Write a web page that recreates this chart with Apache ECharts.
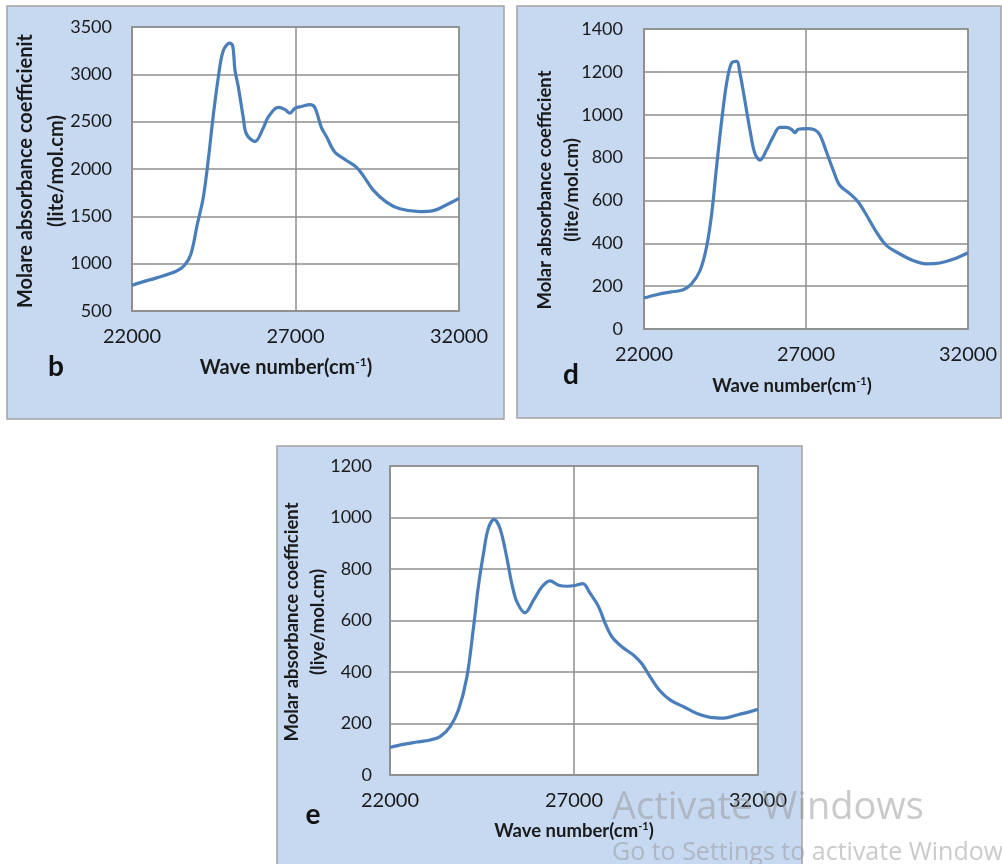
<!DOCTYPE html>
<html>
<head>
<meta charset="utf-8">
<style>
  html, body { margin: 0; padding: 0; background: #fff; }
  #chart { width: 1002px; height: 864px; }
</style>
<script src="https://cdn.jsdelivr.net/npm/echarts@6/dist/echarts.min.js"></script>
</head>
<body>
<div id="chart"></div>
<script>
// panel b
const bWave = [22000, 22350, 22750, 23350, 23600, 23800, 24000, 24180, 24330, 24480, 24640, 24790, 24990, 25080, 25150, 25250, 25400, 25500, 25760, 26010, 26170, 26470, 26670, 26830, 26980, 27180, 27440, 27590, 27790, 27950, 28200, 28560, 28860, 29070, 29370, 29780, 30190, 30800, 31210, 31610, 32000]
const bCoef = [770, 810, 850, 920, 980, 1100, 1420, 1700, 2090, 2550, 2970, 3250, 3330, 3300, 3040, 2870, 2550, 2370, 2290, 2430, 2550, 2650, 2630, 2590, 2640, 2660, 2680, 2650, 2440, 2340, 2180, 2090, 2020, 1930, 1780, 1650, 1580, 1550, 1560, 1620, 1690]
// panel d
const dWave = [22000, 22390, 22800, 23210, 23470, 23730, 23930, 24090, 24240, 24400, 24550, 24700, 24860, 24960, 25110, 25270, 25420, 25580, 25780, 25990, 26190, 26400, 26550, 26660, 26760, 27020, 27270, 27430, 27630, 27840, 28040, 28350, 28610, 28870, 29170, 29480, 29890, 30300, 30720, 31130, 31540, 32000]
const dCoef = [145, 160, 172, 183, 211, 273, 382, 539, 757, 976, 1147, 1241, 1249, 1194, 1069, 929, 820, 788, 835, 898, 941, 941, 932, 916, 932, 935, 929, 905, 827, 741, 671, 632, 593, 531, 453, 390, 351, 320, 304, 308, 325, 356]
// panel e
const eWave = [22000, 22360, 22730, 23090, 23360, 23630, 23860, 24090, 24270, 24400, 24540, 24670, 24830, 24990, 25170, 25310, 25450, 25670, 25900, 26130, 26350, 26580, 26810, 27030, 27240, 27440, 27670, 27850, 28030, 28300, 28620, 28850, 29070, 29340, 29620, 29980, 30340, 30700, 31070, 31430, 31790, 32000]
const eCoef = [107, 119, 128, 136, 149, 187, 252, 381, 575, 731, 860, 957, 993, 957, 847, 743, 672, 630, 679, 731, 754, 737, 733, 736, 743, 705, 653, 588, 537, 498, 465, 431, 381, 326, 291, 265, 239, 224, 221, 233, 246, 255]

const xTicks = [22000, 27000, 32000]
const bTicks = [500, 3500, 500]   // min, max, step
const dTicks = [0, 1400, 200]
const eTicks = [0, 1200, 200]

const yTitles = [
  ['Molare absorbance coefficienit', '(lite/mol.cm)'],
  ['Molar absorbance coefficient', '(lite/mol.cm)'],
  ['Molar absorbance coefficient', '(liye/mol.cm)']
]
const letters = ['b', 'd', 'e']

const FONT = 'Lato, "Open Sans", sans-serif'
const GRID_COLOR = '#8e8e8e'
const LINE_COLOR = '#4a7ebb'
const PANEL_FILL = '#c6d9f1'
const TEXT_COLOR = '#1a1a1a'

function zip(xs, ys) {
  return xs.map((x, i) => [x, ys[i]])
}

function xAxisOf(idx) {
  return {
    gridIndex: idx,
    type: 'value',
    min: xTicks[0],
    max: xTicks[2],
    interval: xTicks[1] - xTicks[0],
    axisLine: { show: true, lineStyle: { color: GRID_COLOR, width: 1.5 } },
    axisTick: { show: false },
    splitLine: { show: true, lineStyle: { color: GRID_COLOR, width: 1.5 } },
    axisLabel: { color: TEXT_COLOR, fontFamily: FONT, fontSize: 20, margin: 16, formatter: v => String(v) }
  }
}

function yAxisOf(idx, ticks, margin) {
  return {
    gridIndex: idx,
    type: 'value',
    min: ticks[0],
    max: ticks[1],
    interval: ticks[2],
    axisLine: { show: true, lineStyle: { color: GRID_COLOR, width: 1.5 } },
    axisTick: { show: false },
    splitLine: { show: true, lineStyle: { color: GRID_COLOR, width: 1.5 } },
    axisLabel: { color: TEXT_COLOR, fontFamily: FONT, fontSize: 18, margin: margin, formatter: v => String(v) }
  }
}

function seriesOf(idx, data) {
  return {
    type: 'line',
    xAxisIndex: idx,
    yAxisIndex: idx,
    data: data,
    smooth: 0.35,
    showSymbol: false,
    lineStyle: { color: LINE_COLOR, width: 3.2 },
    z: 5
  }
}

function panelRect(x, y, w, h) {
  return {
    type: 'rect',
    z: -10,
    shape: { x: x, y: y, width: w, height: h },
    style: { fill: PANEL_FILL, stroke: '#a3a3a3', lineWidth: 1.5 }
  }
}

function yTitle(lines, x1, x2, cy, size) {
  return lines.map((t, i) => ({
    type: 'text',
    z: 20,
    x: i === 0 ? x1 : x2,
    y: cy,
    rotation: Math.PI / 2,
    style: {
      text: t,
      fill: '#1a1a1a',
      font: 'bold ' + size + 'px ' + FONT,
      textAlign: 'center',
      textVerticalAlign: 'middle'
    }
  }))
}

function xTitle(cx, cy, size) {
  return {
    type: 'text',
    z: 20,
    x: cx,
    y: cy,
    style: {
      text: '{a|Wave number(cm}{s|-1}{a|)}',
      textAlign: 'center',
      textVerticalAlign: 'middle',
      rich: {
        a: { fontFamily: FONT, fontWeight: 'bold', fontSize: size, fill: '#1a1a1a' },
        s: { fontFamily: FONT, fontWeight: 'bold', fontSize: Math.round(size * 0.6), fill: '#1a1a1a', padding: [0, 0, Math.round(size * 0.55), 0] }
      }
    }
  }
}

function letter(t, cx, cy) {
  return {
    type: 'text',
    z: 20,
    x: cx,
    y: cy,
    style: {
      text: t,
      fill: '#111',
      font: 'bold 28px ' + FONT,
      textAlign: 'center',
      textVerticalAlign: 'middle'
    }
  }
}

const chart = echarts.init(document.getElementById('chart'), null, { renderer: 'canvas' })

chart.setOption({
  animation: false,
  backgroundColor: '#fff',
  grid: [
    { left: 132, top: 27, width: 327, height: 284, show: true, backgroundColor: '#fff', borderColor: GRID_COLOR, borderWidth: 1.5 },
    { left: 644, top: 29, width: 324, height: 300, show: true, backgroundColor: '#fff', borderColor: GRID_COLOR, borderWidth: 1.5 },
    { left: 390, top: 466, width: 368, height: 309, show: true, backgroundColor: '#fff', borderColor: GRID_COLOR, borderWidth: 1.5 }
  ],
  xAxis: [xAxisOf(0), xAxisOf(1), xAxisOf(2)],
  yAxis: [yAxisOf(0, bTicks, 20), yAxisOf(1, dTicks, 21), yAxisOf(2, eTicks, 18)],
  series: [
    seriesOf(0, zip(bWave, bCoef)),
    seriesOf(1, zip(dWave, dCoef)),
    seriesOf(2, zip(eWave, eCoef))
  ],
  graphic: [
    panelRect(7, 6, 497, 413),
    panelRect(517, 6, 484, 412),
    panelRect(277, 446, 525, 430),
    ...yTitle(yTitles[0], 26, 57, 171, 20),
    ...yTitle(yTitles[1], 545, 572, 190, 18.5),
    ...yTitle(yTitles[2], 292, 318, 622, 18.5),
    xTitle(286, 368, 20),
    xTitle(792, 386, 18.5),
    xTitle(574, 831, 18.5),
    letter(letters[0], 56, 367),
    letter(letters[1], 571, 375),
    letter(letters[2], 313, 815),
    {
      type: 'text',
      z: 30,
      x: 612,
      y: 808,
      style: {
        text: 'Activate Windows',
        fill: 'rgba(150,150,150,0.5)',
        font: '38px "Open Sans", sans-serif',
        textVerticalAlign: 'middle'
      }
    },
    {
      type: 'text',
      z: 30,
      x: 612,
      y: 853,
      style: {
        text: 'Go to Settings to activate Windows.',
        fill: 'rgba(150,150,150,0.5)',
        font: '25px "Open Sans", sans-serif',
        textVerticalAlign: 'middle'
      }
    }
  ]
})
</script>
</body>
</html>
